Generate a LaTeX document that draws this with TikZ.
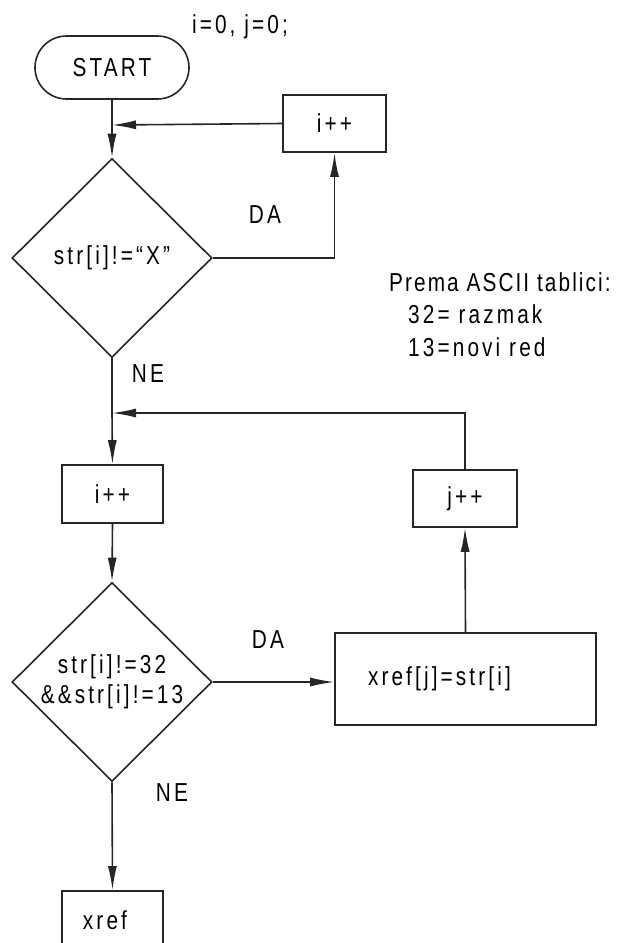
\documentclass[tikz,border=0pt]{standalone}
\usepackage{fontspec}
\setmainfont{Liberation Sans}[FakeStretch=0.8, LetterSpace=12]
\newfontfamily\premafont{Liberation Sans}[FakeStretch=0.8, LetterSpace=8]
\usetikzlibrary{shapes.geometric,shapes.misc,arrows.meta}
\tikzset{
  every node/.style={font=\fontsize{26}{29}\selectfont, inner sep=0pt},
  ln/.style={line width=1.6pt, draw=black!85},
  arr/.style={ln, -{Latex[length=24pt,width=9pt]}},
  boxn/.style={ln, draw, rectangle},
  decn/.style={ln, draw, diamond, minimum width=200pt, minimum height=199pt},
  lbl/.style={anchor=center},
}
\begin{document}
\begin{tikzpicture}[x=1pt,y=1pt]
\clip (0,0) rectangle (622,-943);
\node[ln, draw, rounded rectangle, minimum width=154pt, minimum height=63pt] (start) at (112,-67.5) {START};
\node[lbl] (init) at (240,-27) {i=0, j=0;};
\coordinate (c1) at (112,-125);
\node[decn] (d1) at (112,-258) {str[i]!=“X”};
\node[boxn, minimum width=103pt, minimum height=57pt] (inc1) at (334.5,-123.5) {i++};
\node[lbl] (da1) at (265,-215) {DA};
\node[lbl] (ne1) at (148,-374) {NE};
\coordinate (c2) at (112,-413);
\node[boxn, minimum width=101pt, minimum height=58pt] (inc2) at (112.5,-494) {i++};
\node[decn, align=center] (d2) at (112,-682) {str[i]!=32\\[1pt]\&\&str[i]!=13};
\node[boxn, minimum width=261pt, minimum height=92pt, text width=195pt, align=left] (xj) at (465.5,-679) {xref[j]=str[i]};
\node[boxn, minimum width=104pt, minimum height=57pt] (jinc) at (465,-498.5) {j++};
\node[lbl] (da2) at (268,-640) {DA};
\node[lbl] (ne2) at (172,-793) {NE};
\node[boxn, minimum width=101pt, minimum height=80pt, anchor=north] (xr) at (112.5,-890) {};
\node[lbl] (xrt) at (105,-920) {xref};
\node[anchor=west, font=\premafont\fontsize{26}{29}\selectfont] (p1) at (389,-282) {Prema ASCII tablici:};
\node[anchor=west] (p2) at (408,-314) {32= razmak};
\node[anchor=west] (p3) at (408,-347) {13=novi red};
% connectors
\draw[ln] (start.south) -- (c1);
\draw[arr] (c1) -- (d1.north);
\draw[arr] (inc1.west) -- (c1);
\draw[arr] (d1.east) -| (inc1.south);
\draw[ln] (d1.south) -- (c2);
\draw[arr] (c2) -- (inc2.north);
\draw[arr] (jinc.north) |- (c2);
\draw[arr] (inc2.south) -- (d2.north);
\draw[arr] (d2.east) -- (d2.east -| xj.west);
\draw[arr] (xj.north) -- (jinc.south);
\draw[arr] (d2.south) -- (xr.north);
\end{tikzpicture}
\end{document}
